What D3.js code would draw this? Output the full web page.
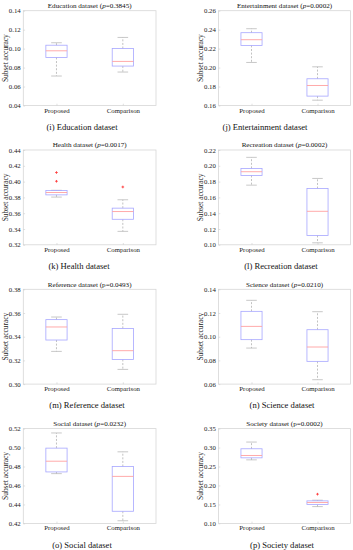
<!DOCTYPE html>
<html><head><meta charset="utf-8">
<script src="https://cdn.jsdelivr.net/npm/d3@7"></script>
<style>body{margin:0;background:#fff}svg{display:block}</style>
</head><body><svg id="c" width="353" height="550"></svg>
<script>
// ---------- data ----------
const datasets = ["Education","Entertainment","Health","Recreation","Reference","Science","Social","Society"];
const pValues = ["0.3845","0.0002","0.0017","0.0002","0.0493","0.0210","0.0232","0.0002"];
const captionLetters = ["i","j","k","l","m","n","o","p"];
const methods = ["Proposed","Comparison"];
// [lower whisker, Q1, median, Q3, upper whisker]
const proposedStats = [
  [0.0711,0.0907,0.0977,0.1036,0.1062],
  [0.2054,0.2234,0.2294,0.2368,0.2410],
  [0.3804,0.3832,0.3862,0.3887,0.3890],
  [0.1755,0.1878,0.1925,0.1967,0.2107],
  [0.3276,0.3372,0.3482,0.3544,0.3566],
  [0.0904,0.0975,0.1087,0.1214,0.1307],
  [0.4725,0.4743,0.4856,0.4994,0.5154],
  [0.2676,0.2729,0.2791,0.2968,0.3145]
];
const comparisonStats = [
  [0.0753,0.0816,0.0865,0.1001,0.1118],
  [0.1656,0.1699,0.1811,0.1882,0.2008],
  [0.3370,0.3523,0.3621,0.3664,0.3770],
  [0.1025,0.1119,0.1424,0.1712,0.1840],
  [0.3124,0.3208,0.3282,0.3470,0.3589],
  [0.0637,0.0792,0.0913,0.1059,0.1211],
  [0.4228,0.4328,0.4696,0.4800,0.4955],
  [0.1443,0.1496,0.1550,0.1594,0.1612]
];
const proposedOutliers = [[],[],[0.4115,0.4004],[],[],[],[],[]];
const comparisonOutliers = [[],[],[0.3932],[],[],[],[],[0.1771]];
const yDomains = [[0.04,0.14],[0.16,0.26],[0.32,0.44],[0.10,0.22],[0.30,0.38],[0.06,0.14],[0.42,0.52],[0.10,0.35]];
const yTickValues = [
  [0.04,0.06,0.08,0.10,0.12,0.14],
  [0.16,0.18,0.20,0.22,0.24,0.26],
  [0.32,0.34,0.36,0.38,0.40,0.42,0.44],
  [0.10,0.12,0.14,0.16,0.18,0.20,0.22],
  [0.30,0.32,0.34,0.36,0.38],
  [0.06,0.08,0.10,0.12,0.14],
  [0.42,0.44,0.46,0.48,0.50,0.52],
  [0.10,0.15,0.20,0.25,0.30,0.35]
];
const yLabel = "Subset accuracy";

// ---------- layout ----------
const colX0 = [23.3, 218.5], colX1 = [156, 350.5];
const rowTop = 10.7, rowBottom = 105.5, rowStep = 139.3;
const captionX = [82, 265, 79, 281, 87, 282, 82, 282];
const pItalic = [true,true,true,true,false,true,true,false];
const serif = "'Liberation Serif','Times New Roman',serif";

const svg = d3.select("#c");
const fmt = d3.format(".2f");

datasets.forEach((name, i) => {
  const col = i % 2, row = Math.floor(i / 2);
  const x0 = colX0[col], x1 = colX1[col];
  const top = rowTop + row * rowStep, bottom = rowBottom + row * rowStep;
  const x = d3.scalePoint().domain(methods).range([x0, x1]).padding(0.5);
  const y = d3.scaleLinear().domain(yDomains[i]).range([bottom, top]);
  const boxW = x.step() * 0.32;
  const g = svg.append("g");

  // frame
  g.append("rect").attr("x", x0).attr("y", top).attr("width", x1 - x0).attr("height", bottom - top)
    .attr("fill", "none").attr("stroke", "#d6d6d6").attr("stroke-width", 0.8);

  // y axis
  const ya = g.append("g").attr("transform", `translate(${x0},0)`)
    .call(d3.axisLeft(y).tickValues(yTickValues[i]).tickFormat(fmt).tickSize(-1.8).tickPadding(2.6));
  ya.select(".domain").remove();
  ya.selectAll("line").attr("stroke", "#cccccc").attr("stroke-width", 0.6);
  ya.selectAll("text").attr("font-family", serif).attr("font-size", 6.8).attr("fill", "#222");

  // x axis
  const xa = g.append("g").attr("transform", `translate(0,${bottom})`)
    .call(d3.axisBottom(x).tickSize(-1.8).tickPadding(2.2));
  xa.select(".domain").remove();
  xa.selectAll("line").attr("stroke", "#cccccc").attr("stroke-width", 0.6);
  xa.selectAll("text").attr("font-family", serif).attr("font-size", 6.8).attr("fill", "#222");

  // y label
  g.append("text").attr("transform", `translate(${x0 - 18.3},${(top + bottom) / 2}) rotate(-90)`)
    .attr("text-anchor", "middle").attr("dy", "0.35em")
    .attr("font-family", serif).attr("font-size", 7.4).attr("fill", "#222").text(yLabel);

  // title
  const t = g.append("text").attr("x", (x0 + x1) / 2).attr("y", top - 2.6).attr("text-anchor", "middle")
    .attr("font-family", serif).attr("font-size", 7.1).attr("fill", "#111");
  t.append("tspan").text(`${name} dataset (`);
  t.append("tspan").attr("font-style", pItalic[i] ? "italic" : "normal").text("p");
  t.append("tspan").text(`=${pValues[i]})`);

  // caption
  g.append("text").attr("x", captionX[i]).attr("y", bottom + 24.2).attr("text-anchor", "middle")
    .attr("font-family", serif).attr("font-size", 8.6).attr("fill", "#111")
    .text(`(${captionLetters[i]}) ${name} dataset`);

  // boxes
  const stats = [proposedStats[i], comparisonStats[i]];
  const outs = [proposedOutliers[i], comparisonOutliers[i]];
  methods.forEach((m, k) => {
    const s = stats[k], cx = x(m);
    const bg = g.append("g");
    // whiskers
    bg.append("line").attr("x1", cx).attr("x2", cx).attr("y1", y(s[3])).attr("y2", y(s[4]))
      .attr("stroke", "#a8a8a8").attr("stroke-width", 0.7).attr("stroke-dasharray", "2,1.6");
    bg.append("line").attr("x1", cx).attr("x2", cx).attr("y1", y(s[1])).attr("y2", y(s[0]))
      .attr("stroke", "#a8a8a8").attr("stroke-width", 0.7).attr("stroke-dasharray", "2,1.6");
    // caps
    [s[0], s[4]].forEach(v => {
      bg.append("line").attr("x1", cx - boxW / 4).attr("x2", cx + boxW / 4).attr("y1", y(v)).attr("y2", y(v))
        .attr("stroke", "#b0b0b0").attr("stroke-width", 0.7);
    });
    // box
    bg.append("rect").attr("x", cx - boxW / 2).attr("y", y(s[3])).attr("width", boxW).attr("height", y(s[1]) - y(s[3]))
      .attr("fill", "none").attr("stroke", "#a6a6ff").attr("stroke-width", 0.8);
    // median
    bg.append("line").attr("x1", cx - boxW / 2).attr("x2", cx + boxW / 2).attr("y1", y(s[2])).attr("y2", y(s[2]))
      .attr("stroke", "#ffa0a0").attr("stroke-width", 0.9);
    // outliers
    outs[k].forEach(v => {
      bg.append("path").attr("d", `M${cx - 1.3},${y(v)}h2.6M${cx},${y(v) - 1.3}v2.6`)
        .attr("stroke", "#ff3c3c").attr("stroke-width", 0.9);
    });
  });
});
</script>
</body></html>
